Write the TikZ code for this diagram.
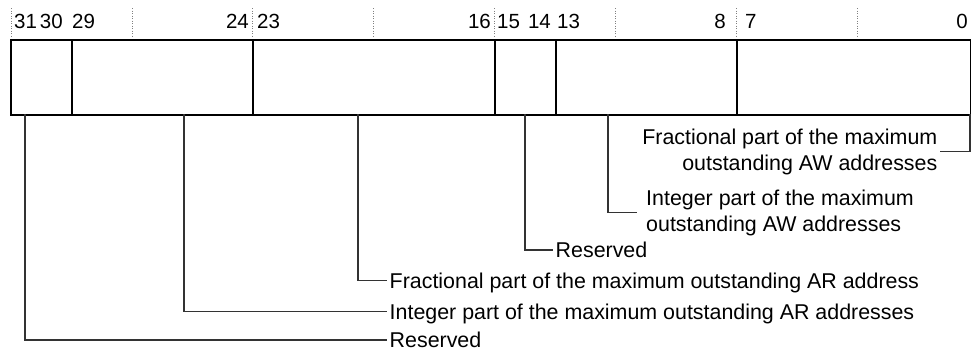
\documentclass[tikz,border=0pt]{standalone}
\usepackage{fontspec}
\setmainfont{Liberation Sans}

\tikzset{
  field/.style={draw,line width=1.8pt,minimum height=75pt,inner sep=0pt,anchor=north west},
  bitno/.style={font=\fontsize{20.5}{23}\selectfont,inner sep=0pt},
  lbl/.style={font=\fontsize{21.4}{26}\selectfont,inner xsep=2.5pt,inner ysep=0pt,
    text height=15pt,text depth=0pt,anchor=west},
  lbltwo/.style={font=\fontsize{21.4}{26}\selectfont,inner xsep=2.5pt,inner ysep=0pt},
  lead/.style={line width=1.2pt,black!80},
  tick/.style={black!50,line width=0.7pt,dash pattern=on 1pt off 1.5pt}
}

\begin{document}
\begin{tikzpicture}[x=1pt,y=-1pt]
  \useasboundingbox (0,0) rectangle (971,349);
  \foreach \x in {11,132,252,373,494,615,736,857}
    \draw[tick] (\x,8) -- (\x,37);
  \node[bitno,anchor=base west] (b31) at (14,28.5) {31};
  \node[bitno,anchor=base east] (b30) at (63,28.5) {30};
  \node[bitno,anchor=base west] (b29) at (72,28.5) {29};
  \node[bitno,anchor=base east] (b24) at (249,28.5) {24};
  \node[bitno,anchor=base west] (b23) at (257,28.5) {23};
  \node[bitno,anchor=base east] (b16) at (491,28.5) {16};
  \node[bitno,anchor=base west] (b15) at (497,28.5) {15};
  \node[bitno,anchor=base east] (b14) at (551,28.5) {14};
  \node[bitno,anchor=base west] (b13) at (557,28.5) {13};
  \node[bitno,anchor=base east] (b8) at (726,28.5) {8};
  \node[bitno,anchor=base west] (b7) at (745,28.5) {7};
  \node[bitno,anchor=base east] (b0) at (968,28.5) {0};
  \node[field,minimum width=61pt] (f31) at (10,39) {};
  \node[field,minimum width=181pt] (f29) at (71,39) {};
  \node[field,minimum width=242pt] (f23) at (252,39) {};
  \node[field,minimum width=61pt] (f15) at (494,39) {};
  \node[field,minimum width=181pt] (f13) at (555,39) {};
  \node[field,minimum width=234pt] (f7) at (736,39) {};
  \coordinate (c31) at (25,114);
  \coordinate (c29) at (184,114);
  \coordinate (c23) at (358,114);
  \coordinate (c15) at (525,114);
  \coordinate (c13) at (608,114);
  \coordinate (c7) at (970,114);
  \node[lbltwo,align=right,anchor=east] (tfrac7) at (940,151.5)
    {Fractional part of the maximum\\outstanding AW addresses};
  \node[lbltwo,align=left,anchor=west] (tint13) at (643.5,212.5)
    {Integer part of the maximum\\outstanding AW addresses};
  \node[lbl] (tres15) at (553,250) {Reserved};
  \node[lbl] (tfrac23) at (387,280.5) {Fractional part of the maximum outstanding AR address};
  \node[lbl] (tint29) at (387,311.5) {Integer part of the maximum outstanding AR addresses};
  \node[lbl] (tres31) at (387,340) {Reserved};
  \draw[lead] (c7) |- (tfrac7.east);
  \draw[lead] (c13) |- ([xshift=-6.5pt]tint13.west);
  \draw[lead] (c15) |- (tres15.west);
  \draw[lead] (c23) |- (tfrac23.west);
  \draw[lead] (c29) |- (tint29.west);
  \draw[lead] (c31) |- (tres31.west);
\end{tikzpicture}
\end{document}
